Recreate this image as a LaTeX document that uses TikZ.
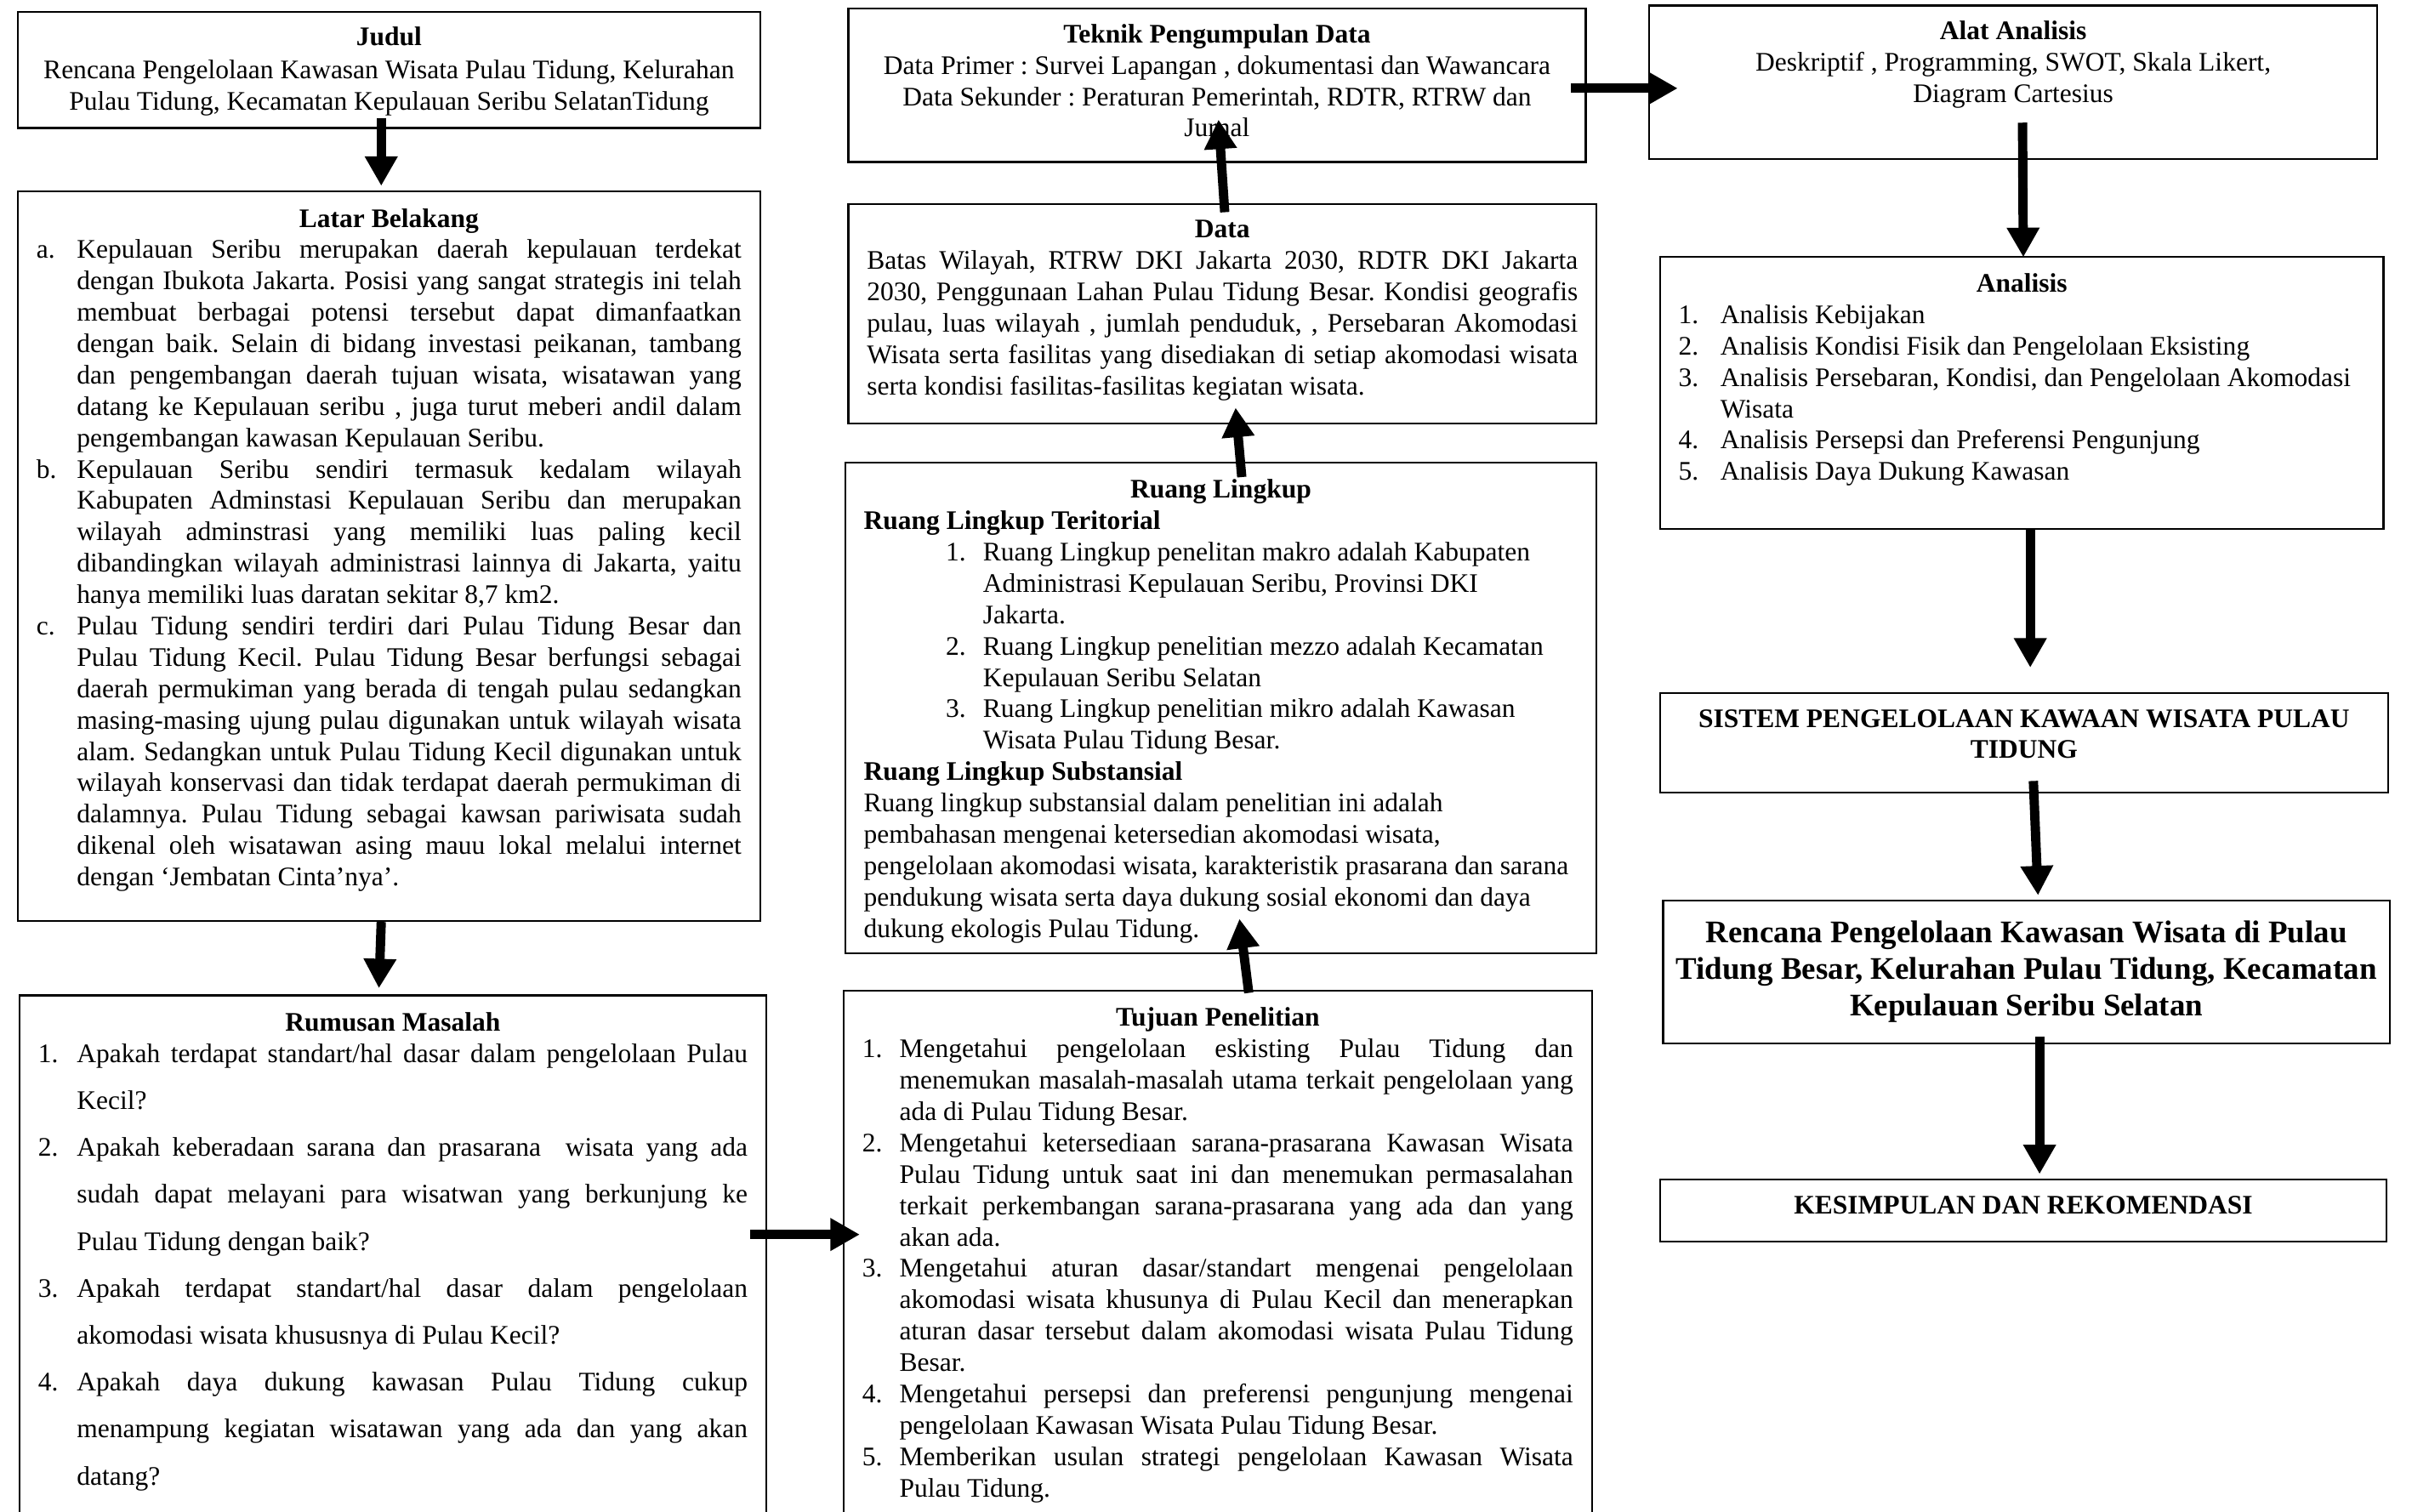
\documentclass[tikz,border=0pt]{standalone}
\usepackage{fontspec}
\setmainfont{Liberation Serif}
\usetikzlibrary{arrows.meta,calc}
\hyphenpenalty=10000
\exhyphenpenalty=10000
\tolerance=10000
\frenchspacing
\newlength{\itmw}
\newcommand{\itm}[2]{\par\noindent\hangindent=\itmw\hangafter=1\makebox[\itmw][l]{#1}#2\par}
\newcommand{\hd}[1]{{\centering\bfseries #1\par}}

\begin{document}
\begin{tikzpicture}[x=1pt, y=-1pt,
	box/.style={draw, line width=1.2pt, anchor=north west, inner xsep=12pt, inner ysep=0pt, font=\fontsize{17.3}{20.25}\selectfont\frenchspacing},
	arr/.style={line width=6pt, -{Triangle[width=20pt,length=19pt]}}]
	\useasboundingbox (0,0) rectangle (1568,976);
	\clip (0,0) rectangle (1568,976);
	% left column
	\node[box, text width=455pt, align=flush center, text height=22pt, text depth=53pt] (judul) at (11,7)
		{\textbf{Judul}\\[1pt] Rencana Pengelolaan Kawasan Wisata Pulau Tidung, Kelurahan\\ Pulau Tidung, Kecamatan Kepulauan Seribu SelatanTidung};
	\node[box, text width=455pt, align=justify, text height=23pt, text depth=448pt] (latar) at (11,123)
		{\hd{Latar Belakang}\setlength{\itmw}{26pt}%
		\itm{a.}{Kepulauan Seribu merupakan daerah kepulauan terdekat\linebreak dengan Ibukota Jakarta. Posisi yang sangat strategis ini telah\linebreak membuat berbagai potensi tersebut dapat dimanfaatkan\linebreak dengan baik. Selain di bidang investasi peikanan, tambang\linebreak dan pengembangan daerah tujuan wisata, wisatawan yang\linebreak datang ke Kepulauan seribu , juga turut meberi andil dalam\linebreak pengembangan kawasan Kepulauan Seribu.}
		\itm{b.}{Kepulauan Seribu sendiri termasuk kedalam wilayah\linebreak Kabupaten Adminstasi Kepulauan Seribu dan merupakan\linebreak wilayah adminstrasi yang memiliki luas paling kecil\linebreak dibandingkan wilayah administrasi lainnya di Jakarta, yaitu\linebreak hanya memiliki luas daratan sekitar 8,7 km2.}
		\itm{c.}{Pulau Tidung sendiri terdiri dari Pulau Tidung Besar dan\linebreak Pulau Tidung Kecil. Pulau Tidung Besar berfungsi sebagai\linebreak daerah permukiman yang berada di tengah pulau sedangkan\linebreak masing-masing ujung pulau digunakan untuk wilayah wisata\linebreak alam. Sedangkan untuk Pulau Tidung Kecil digunakan untuk\linebreak wilayah konservasi dan tidak terdapat daerah permukiman di\linebreak dalamnya. Pulau Tidung sebagai kawsan pariwisata sudah\linebreak dikenal oleh wisatawan asing mauu lokal melalui internet\linebreak dengan ‘Jembatan Cinta’nya’.}};
	\node[box, text width=458pt, align=justify, text height=23pt, text depth=377pt] (rumusan) at (12,642)
		{\hd{Rumusan Masalah}\vspace{-10pt}\fontsize{17.3}{30.3}\selectfont\setlength{\itmw}{25pt}%
		\itm{1.}{Apakah terdapat standart/hal dasar dalam pengelolaan Pulau\linebreak Kecil?}
		\itm{2.}{Apakah keberadaan sarana dan prasarana \ wisata yang ada\linebreak sudah dapat melayani para wisatwan yang berkunjung ke\linebreak Pulau Tidung dengan baik?}
		\itm{3.}{Apakah terdapat standart/hal dasar dalam pengelolaan\linebreak akomodasi wisata khususnya di Pulau Kecil?}
		\itm{4.}{Apakah daya dukung kawasan Pulau Tidung cukup\linebreak menampung kegiatan wisatawan yang ada dan yang akan\linebreak datang?}};
	% middle column
	\node[box, text width=452pt, align=flush center, text height=22pt, text depth=77pt] (teknik) at (547,5)
		{\textbf{Teknik Pengumpulan Data}\\ Data Primer : Survei Lapangan , dokumentasi dan Wawancara\\ Data Sekunder : Peraturan Pemerintah, RDTR, RTRW dan\\ Jurnal};
	\node[box, text width=459pt, align=justify, text height=22pt, text depth=120pt] (data) at (547,131)
		{\hd{Data}Batas Wilayah, RTRW DKI Jakarta 2030, RDTR DKI Jakarta\linebreak 2030, Penggunaan Lahan Pulau Tidung Besar. Kondisi geografis\linebreak pulau, luas wilayah , jumlah penduduk, , Persebaran Akomodasi\linebreak Wisata serta fasilitas yang disediakan di setiap akomodasi wisata\linebreak serta kondisi fasilitas-fasilitas kegiatan wisata.};
	\node[box, text width=461pt, align=flush left, text height=23pt, text depth=294pt] (ruang) at (545,298)
		{\hd{Ruang Lingkup}\textbf{Ruang Lingkup Teritorial}\par
		{\leftskip=53pt\setlength{\itmw}{24pt}%
		\itm{1.}{Ruang Lingkup penelitan makro adalah Kabupaten\linebreak Administrasi Kepulauan Seribu, Provinsi DKI\linebreak Jakarta.}
		\itm{2.}{Ruang Lingkup penelitian mezzo adalah Kecamatan\linebreak Kepulauan Seribu Selatan}
		\itm{3.}{Ruang Lingkup penelitian mikro adalah Kawasan\linebreak Wisata Pulau Tidung Besar.}}
		\textbf{Ruang Lingkup Substansial}\par
		Ruang lingkup substansial dalam penelitian ini adalah\linebreak pembahasan mengenai ketersedian akomodasi wisata,\linebreak pengelolaan akomodasi wisata, karakteristik prasarana dan sarana\linebreak pendukung wisata serta daya dukung sosial ekonomi dan daya\linebreak dukung ekologis Pulau Tidung.};
	\node[box, text width=459pt, align=justify, text height=23pt, text depth=377pt] (tujuan) at (544,639)
		{\hd{Tujuan Penelitian}\setlength{\itmw}{24pt}%
		\itm{1.}{Mengetahui pengelolaan eskisting Pulau Tidung dan\linebreak menemukan masalah-masalah utama terkait pengelolaan yang\linebreak ada di Pulau Tidung Besar.}
		\itm{2.}{Mengetahui ketersediaan sarana-prasarana Kawasan Wisata\linebreak Pulau Tidung untuk saat ini dan menemukan permasalahan\linebreak terkait perkembangan sarana-prasarana yang ada dan yang\linebreak akan ada.}
		\itm{3.}{Mengetahui aturan dasar/standart mengenai pengelolaan\linebreak akomodasi wisata khusunya di Pulau Kecil dan menerapkan\linebreak aturan dasar tersebut dalam akomodasi wisata Pulau Tidung\linebreak Besar.}
		\itm{4.}{Mengetahui persepsi dan preferensi pengunjung mengenai\linebreak pengelolaan Kawasan Wisata Pulau Tidung Besar.}
		\itm{5.}{Memberikan usulan strategi pengelolaan Kawasan Wisata\linebreak Pulau Tidung.}};
	% right column
	\node[box, text width=446pt, align=flush center, text height=22pt, text depth=77pt] (alat) at (1064,3)
		{\textbf{Alat Analisis}\\ Deskriptif , Programming, SWOT, Skala Likert,\\ Diagram Cartesius};
	\node[box, text width=443pt, align=flush left, text height=23pt, text depth=153pt] (analisis) at (1071,165)
		{\hd{Analisis}\setlength{\itmw}{27pt}%
		\itm{1.}{Analisis Kebijakan}
		\itm{2.}{Analisis Kondisi Fisik dan Pengelolaan Eksisting}
		\itm{3.}{Analisis Persebaran, Kondisi, dan Pengelolaan Akomodasi\linebreak Wisata}
		\itm{4.}{Analisis Persepsi dan Preferensi Pengunjung}
		\itm{5.}{Analisis Daya Dukung Kawasan}};
	\node[box, text width=446pt, align=flush center, text height=22pt, text depth=42pt, font=\fontsize{17.3}{20}\selectfont\bfseries] (sistem) at (1071,447)
		{SISTEM PENGELOLAAN KAWAAN WISATA PULAU\\ TIDUNG};
	\node[box, inner xsep=4pt, text width=461pt, align=flush center, text height=27pt, text depth=65pt, font=\fontsize{20.3}{23.6}\selectfont\bfseries] (rencana) at (1073,581)
		{Rencana Pengelolaan Kawasan Wisata di Pulau\\ Tidung Besar, Kelurahan Pulau Tidung, Kecamatan\\ Kepulauan Seribu Selatan};
	\node[box, text width=445pt, align=flush center, text height=22pt, text depth=18pt, font=\fontsize{17.3}{20.25}\selectfont\bfseries] (kesimpulan) at (1071,761)
		{KESIMPULAN DAN REKOMENDASI};
	% arrows
	\draw[arr] ($(judul.south)+(-5,-7)$) -- ($(latar.north)+(-5,-3)$);
	\draw[arr] ($(latar.south)+(-5,0)$) -- ($(rumusan.north)+(-9,-4)$);
	\draw[arr] ($(rumusan.north east)+(-11,155)$) -- ($(tujuan.north west)+(11,158)$);
	\draw[arr] ($(tujuan.north)+(20,2)$) -- ($(ruang.south)+(12,-23)$);
	\draw[arr] ($(ruang.north)+(13.5,10)$) -- ($(data.south)+(8.5,-11)$);
	\draw[arr] ($(data.north)+(1.5,6)$) -- ($(teknik.south)+(1,-28)$);
	\draw[arr] ($(teknik.north east)+(-10,52)$) -- ($(alat.north west)+(19,54)$);
	\draw[arr] ($(alat.south)+(6,-24)$) -- ($(analisis.north)+(1,1)$);
	\draw[arr] ($(analisis.south)+(5.5,0)$) -- ($(sistem.north)+(4,-16)$);
	\draw[arr] ($(sistem.south)+(6,-8)$) -- ($(rencana.north)+(7.5,-3)$);
	\draw[arr] ($(rencana.south)+(8.5,-5)$) -- ($(kesimpulan.north)+(10.5,-3)$);
\end{tikzpicture}
\end{document}
